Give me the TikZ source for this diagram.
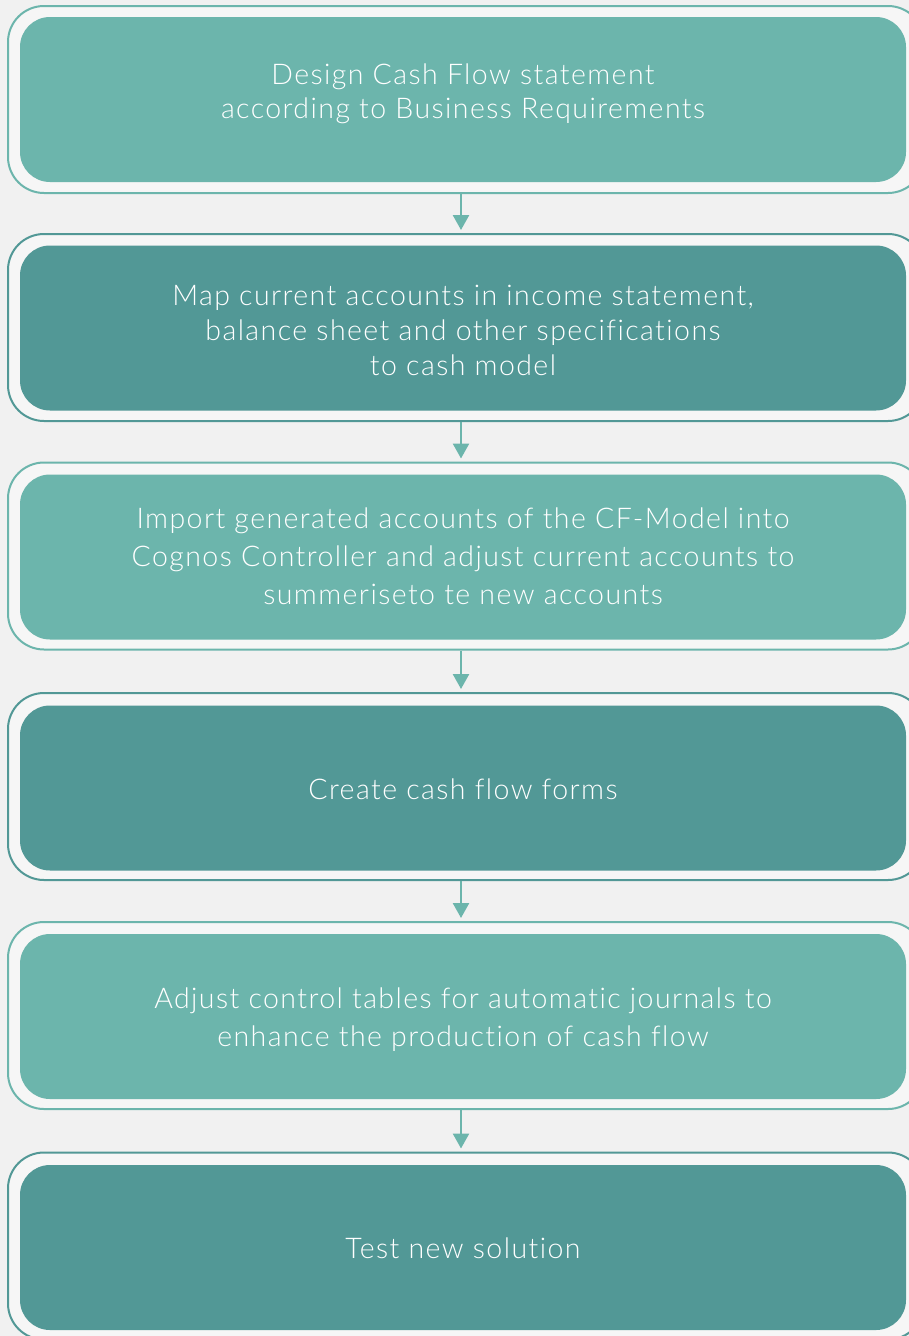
\documentclass[tikz,border=0pt]{standalone}
\usepackage{fontspec}
\setmainfont{Lato}[UprightFont=* Light, LetterSpace=5, Ligatures=NoCommon]
\usetikzlibrary{arrows.meta}
\definecolor{lteal}{HTML}{6CB5AC}
\definecolor{dteal}{HTML}{529896}
\definecolor{bg}{HTML}{F1F1F1}
\definecolor{ring}{HTML}{F6F6F6}
\tikzset{
  outerbox/.style={draw=#1, line width=2pt, fill=ring, rounded corners=36pt, minimum width=916pt, minimum height=187pt, inner sep=0pt},
  innerbox/.style={fill=#1, rounded corners=30pt, minimum width=886pt, minimum height=165pt, inner sep=0pt},
  txt/.style={text=white, align=center, font=\fontsize{28.5}{35}\selectfont, inner sep=0pt},
  arr/.style={draw=lteal, line width=2.5pt, -{Triangle[width=16pt,length=15pt]}}
}
\begin{document}
\begin{tikzpicture}[x=1pt,y=-1pt]
\fill[bg] (0,0) rectangle (909,1336);
\useasboundingbox (0,0) rectangle (909,1336);
% box 1
\node[outerbox=lteal] (o1) at (466,99.5) {};
\node[innerbox=lteal] (b1) at (463,99.5) {};
\node[txt, font=\fontsize{28.5}{34}\selectfont] (t1) at (463,93.5) {Design Cash Flow statement\\according to Business Requirements};
% box 2
\node[outerbox=dteal] (o2) at (466,327.5) {};
\node[innerbox=dteal] (b2) at (463,328) {};
\node[txt] (t2) at (463,330.5) {Map current accounts in income statement,\\balance sheet and other specifications\\to cash model};
% box 3
\node[outerbox=lteal] (o3) at (466,556) {};
\node[innerbox=lteal] (b3) at (463,557) {};
\node[txt, font=\fontsize{28.5}{38}\selectfont] (t3) at (463,556.5) {Import generated accounts of the CF-Model into\\Cognos Controller and adjust current accounts to\\summeriseto te new accounts};
% box 4
\node[outerbox=dteal] (o4) at (466,786.5) {};
\node[innerbox=dteal] (b4) at (463,788) {};
\node[txt] (t4) at (463,789.5) {Create cash flow forms};
% box 5
\node[outerbox=lteal] (o5) at (466,1015.5) {};
\node[innerbox=lteal] (b5) at (463,1016.5) {};
\node[txt, font=\fontsize{28.5}{38}\selectfont] (t5) at (463,1020) {Adjust control tables for automatic journals to\\enhance the production of cash flow};
% box 6
\node[outerbox=dteal] (o6) at (466,1246) {};
\node[innerbox=dteal] (b6) at (463,1247.5) {};
\node[txt] (t6) at (463,1248.5) {Test new solution};
% arrows
\foreach \a/\b in {o1/o2,o2/o3,o3/o4,o4/o5,o5/o6}
  \draw[arr] ([xshift=-5pt]\a.south) -- ([xshift=-5pt,yshift=3pt]\b.north);
\end{tikzpicture}
\end{document}
